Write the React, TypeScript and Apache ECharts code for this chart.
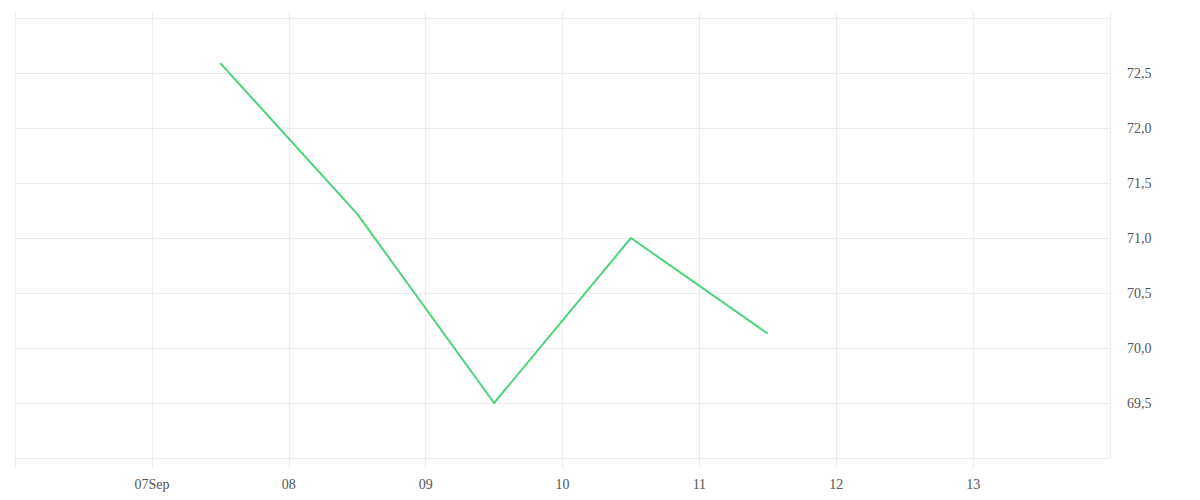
import { useEffect, useRef } from 'react';
import * as echarts from 'echarts';

const DAY = 86400000;
const axisStart = new Date(2023, 8, 6).getTime();
const axisEnd = new Date(2023, 8, 14).getTime();

// one point per day, taken at noon
const pointDates = ['2023-09-07T12:00', '2023-09-08T12:00', '2023-09-09T12:00', '2023-09-10T12:00', '2023-09-11T12:00'];
const pointValues = [72.59, 71.22, 69.5, 71.0, 70.13];

// labels for the daily ticks from 06 Sep to 14 Sep
const xTickLabels = ['', '07Sep', '08', '09', '10', '11', '12', '13', ''];

const gridColor = '#ececec';
const textColor = '#555';

export default function App() {
    const chartRef = useRef(null);

    useEffect(() => {
        const myChart = echarts.init(chartRef.current, null, { renderer: 'svg' });

        myChart.setOption({
            animation: false,
            grid: { left: 15, right: 90, top: 18, bottom: 42 },
            xAxis: [
                {
                    type: 'time',
                    min: axisStart,
                    max: axisEnd,
                    minInterval: DAY,
                    maxInterval: DAY,
                    splitNumber: 8,
                    axisLine: { show: true, lineStyle: { color: gridColor } },
                    axisTick: { show: true, length: 10, lineStyle: { color: gridColor } },
                    splitLine: { show: true, lineStyle: { color: gridColor } },
                    axisLabel: {
                        margin: 19,
                        color: textColor,
                        fontFamily: 'serif',
                        fontSize: 14,
                        showMinLabel: false,
                        showMaxLabel: false,
                        formatter: (v: number) => xTickLabels[Math.round((v - axisStart) / DAY)] ?? '',
                    },
                },
                {
                    type: 'time',
                    position: 'top',
                    min: axisStart,
                    max: axisEnd,
                    minInterval: DAY,
                    maxInterval: DAY,
                    splitNumber: 8,
                    axisLine: { show: false },
                    axisTick: { show: true, length: 6, lineStyle: { color: gridColor } },
                    splitLine: { show: false },
                    axisLabel: { show: false },
                },
            ],
            yAxis: {
                type: 'value',
                position: 'right',
                min: 69,
                max: 73,
                interval: 0.5,
                axisLine: { show: false },
                axisTick: { show: false },
                splitLine: { show: true, lineStyle: { color: gridColor } },
                axisLabel: {
                    margin: 17,
                    color: textColor,
                    fontFamily: 'serif',
                    fontSize: 14,
                    showMinLabel: false,
                    showMaxLabel: false,
                    formatter: (v: number) => v.toFixed(1).replace('.', ','),
                },
            },
            series: [
                {
                    type: 'line',
                    data: pointDates.map((d, i) => [new Date(d).getTime(), pointValues[i]]),
                    showSymbol: false,
                    lineStyle: { color: '#4cd37b', width: 2 },
                    itemStyle: { color: '#4cd37b' },
                },
            ],
        });

        return () => {
            myChart.dispose();
        };
    }, []);

    return (
        <div
            ref={chartRef}
            style={{ position: 'absolute', left: 0, top: 0, width: '1200px', height: '500px' }}
        />
    );
}
